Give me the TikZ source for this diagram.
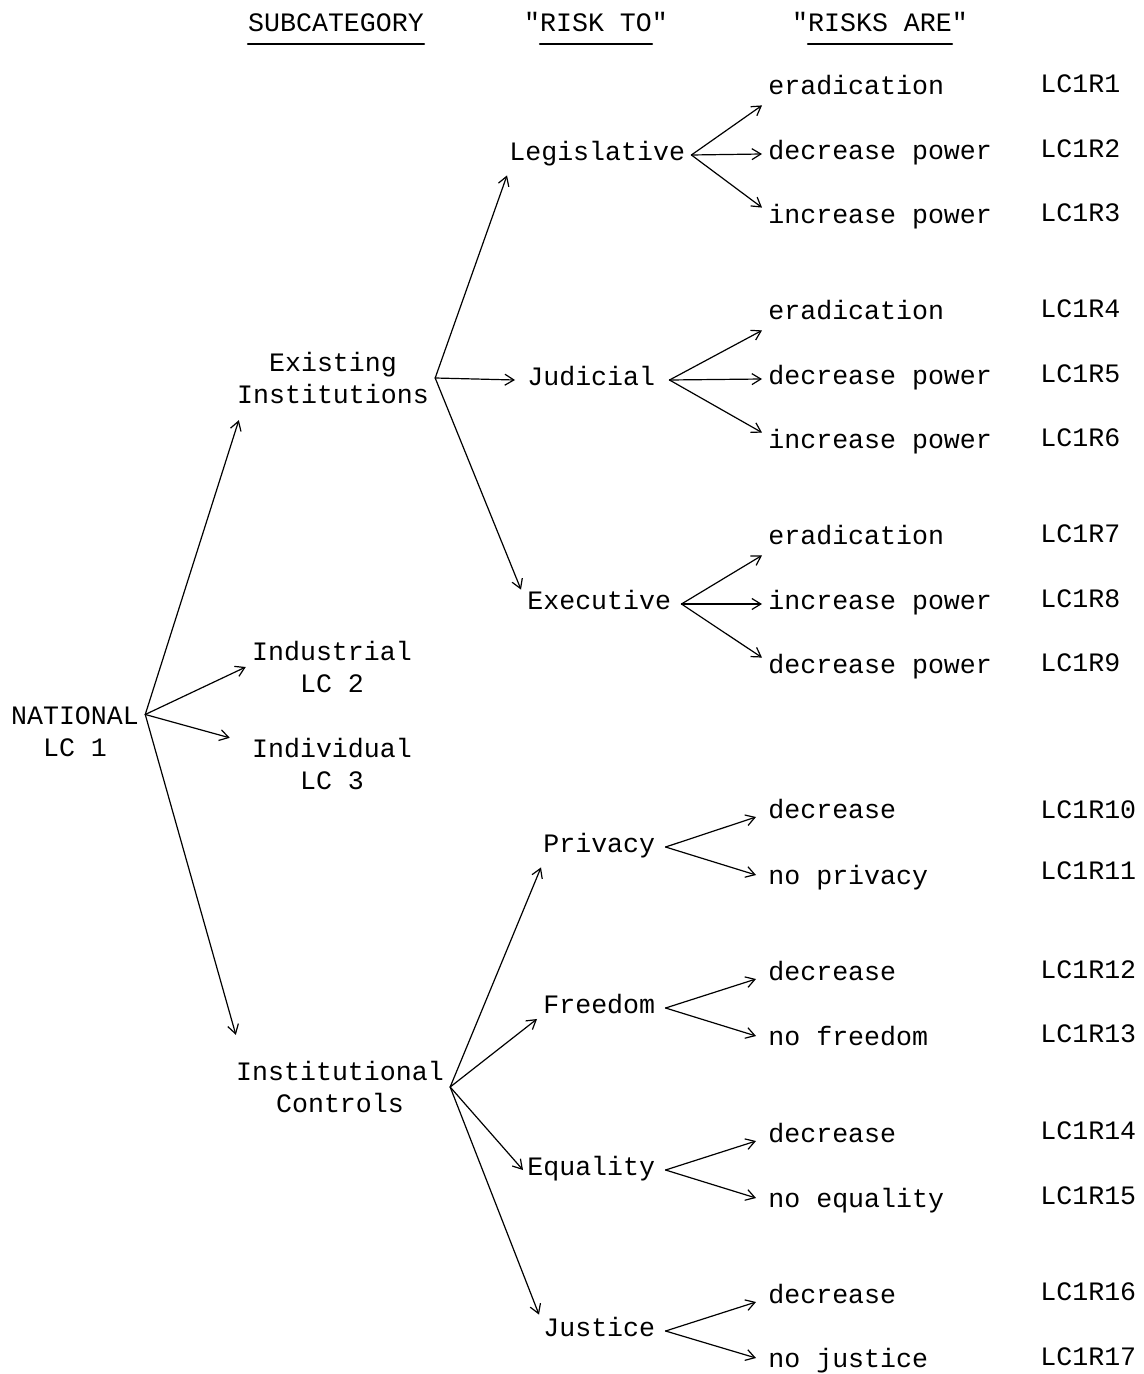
\documentclass[tikz,border=0pt]{standalone}
\usepackage{fontspec}
\newfontfamily\typewriter{Liberation Mono}
\usetikzlibrary{arrows.meta}
\tikzset{
 riskmap/.style={font=\typewriter\fontsize{13.3}{16}\selectfont,line cap=round,line join=round},
 word/.style={inner sep=3pt,text height=7.6pt,text depth=2.4pt,yshift=-2pt},
 pair/.style={align=center,inner sep=3pt},
 topic/.style={word,anchor=west},
 leaf/.style={word,anchor=west},
 code/.style={word,anchor=west},
 head/.style={inner sep=0pt,anchor=base},
 uline/.style={draw,line width=.9pt},
 branch/.style={draw,line width=.6pt,-{Straight Barb[length=4.5pt,width=5.5pt]}}
}

\begin{document}
\begin{tikzpicture}[riskmap,x=.5pt,y=-.5pt]
 \useasboundingbox (0,0) rectangle (1144,1374);
 % column heads
 \node[head] (hsub) at (336,32) {SUBCATEGORY};
 \node[head] (hto) at (596,32) {"RISK TO"};
 \node[head] (hare) at (880,32) {"RISKS ARE"};
 \draw[uline] ([yshift=-6pt]hsub.base west) -- ([yshift=-6pt]hsub.base east);
 \draw[uline] ([xshift=8pt,yshift=-6pt]hto.base west) -- ([xshift=-8pt,yshift=-6pt]hto.base east);
 \draw[uline] ([xshift=8pt,yshift=-6pt]hare.base west) -- ([xshift=-8pt,yshift=-6pt]hare.base east);
 % root and subcategories
 \node[pair] (nat) at (75,732) {NATIONAL\\LC 1};
 \node[pair] (exist) at (333,378) {Existing\\Institutions};
 \node[pair] (indus) at (332,667) {Industrial\\LC 2};
 \node[pair] (indiv) at (332,764) {Individual\\LC 3};
 \node[pair] (instc) at (340,1087) {Institutional\\Controls};
 % risk to
 \node[topic] (legis) at (503,151) {Legislative};
 \node[topic] (judic) at (521,376) {Judicial};
 \node[topic] (execu) at (521,600) {Executive};
 \node[topic] (priva) at (537,843) {Privacy};
 \node[topic] (freed) at (537,1004) {Freedom};
 \node[topic] (equal) at (521,1166) {Equality};
 \node[topic] (justi) at (537,1327) {Justice};
 % risks are
 \node[leaf] (r1) at (762,85) {eradication};
 \node[leaf] (r2) at (762,150) {decrease power};
 \node[leaf] (r3) at (762,214) {increase power};
 \node[leaf] (r4) at (762,310) {eradication};
 \node[leaf] (r5) at (762,375) {decrease power};
 \node[leaf] (r6) at (762,439) {increase power};
 \node[leaf] (r7) at (762,535) {eradication};
 \node[leaf] (r8) at (762,600) {increase power};
 \node[leaf] (r9) at (762,664) {decrease power};
 \node[leaf] (r10) at (762,809) {decrease};
 \node[leaf] (r11) at (762,875) {no privacy};
 \node[leaf] (r12) at (762,971) {decrease};
 \node[leaf] (r13) at (762,1036) {no freedom};
 \node[leaf] (r14) at (762,1133) {decrease};
 \node[leaf] (r15) at (762,1198) {no equality};
 \node[leaf] (r16) at (762,1294) {decrease};
 \node[leaf] (r17) at (762,1358) {no justice};
 % codes
 \foreach \k/\y in {1/83,2/148,3/212,4/308,5/373,6/437,7/533,8/598,9/662,
   10/809,11/870,12/969,13/1033,14/1130,15/1195,16/1291,17/1356}
   \node[code] (c\k) at (1034,\y) {LC1R\k};
 % branches
 \draw[branch] (nat.14) -- ([xshift=4pt,yshift=-5pt]exist.south west);
 \draw[branch] (nat.14) -- (indus.west);
 \draw[branch] (nat.14) -- ([xshift=-8pt,yshift=-3pt]indiv.north west);
 \draw[branch] (nat.14) -- ([xshift=3pt,yshift=10pt]instc.north west);
 \draw[branch] (exist.east) -- ([xshift=2pt,yshift=-2pt]legis.south west);
 \draw[branch] (exist.east) -- ([xshift=-3pt]judic.west);
 \draw[branch] (exist.east) -- ([yshift=-1pt]execu.north west);
 \draw[branch] (instc.east) -- ([xshift=2pt,yshift=-2pt]priva.south west);
 \draw[branch] (instc.east) -- (freed.190);
 \draw[branch] (instc.east) -- ([xshift=1pt]equal.west);
 \draw[branch] (instc.east) -- ([xshift=1pt]justi.north west);
 \draw[branch] (legis.east) -- (r1.south west);
 \draw[branch] (legis.east) -- (r2.west);
 \draw[branch] (legis.east) -- ([yshift=-3pt]r3.north west);
 \draw[branch] ([xshift=4pt]judic.east) -- (r4.south west);
 \draw[branch] ([xshift=4pt]judic.east) -- (r5.west);
 \draw[branch] ([xshift=4pt]judic.east) -- ([yshift=-3pt]r6.north west);
 \draw[branch] ([xshift=2pt]execu.east) -- (r7.south west);
 \draw[branch] ([xshift=2pt]execu.east) -- (r8.west);
 \draw[branch] ([xshift=2pt]execu.east) -- ([yshift=-3pt]r9.north west);
 \draw[branch] ([xshift=2pt]priva.east) -- ([xshift=-3pt,yshift=-2pt]r10.west);
 \draw[branch] ([xshift=2pt]priva.east) -- ([xshift=-3pt,yshift=2pt]r11.west);
 \draw[branch] ([xshift=2pt]freed.east) -- ([xshift=-3pt,yshift=-2pt]r12.west);
 \draw[branch] ([xshift=2pt]freed.east) -- ([xshift=-3pt,yshift=2pt]r13.west);
 \draw[branch] ([xshift=2pt]equal.east) -- ([xshift=-3pt,yshift=-2pt]r14.west);
 \draw[branch] ([xshift=2pt]equal.east) -- ([xshift=-3pt,yshift=2pt]r15.west);
 \draw[branch] ([xshift=2pt]justi.east) -- ([xshift=-3pt,yshift=-2pt]r16.west);
 \draw[branch] ([xshift=2pt]justi.east) -- ([xshift=-3pt,yshift=2pt]r17.west);
\end{tikzpicture}
\end{document}
